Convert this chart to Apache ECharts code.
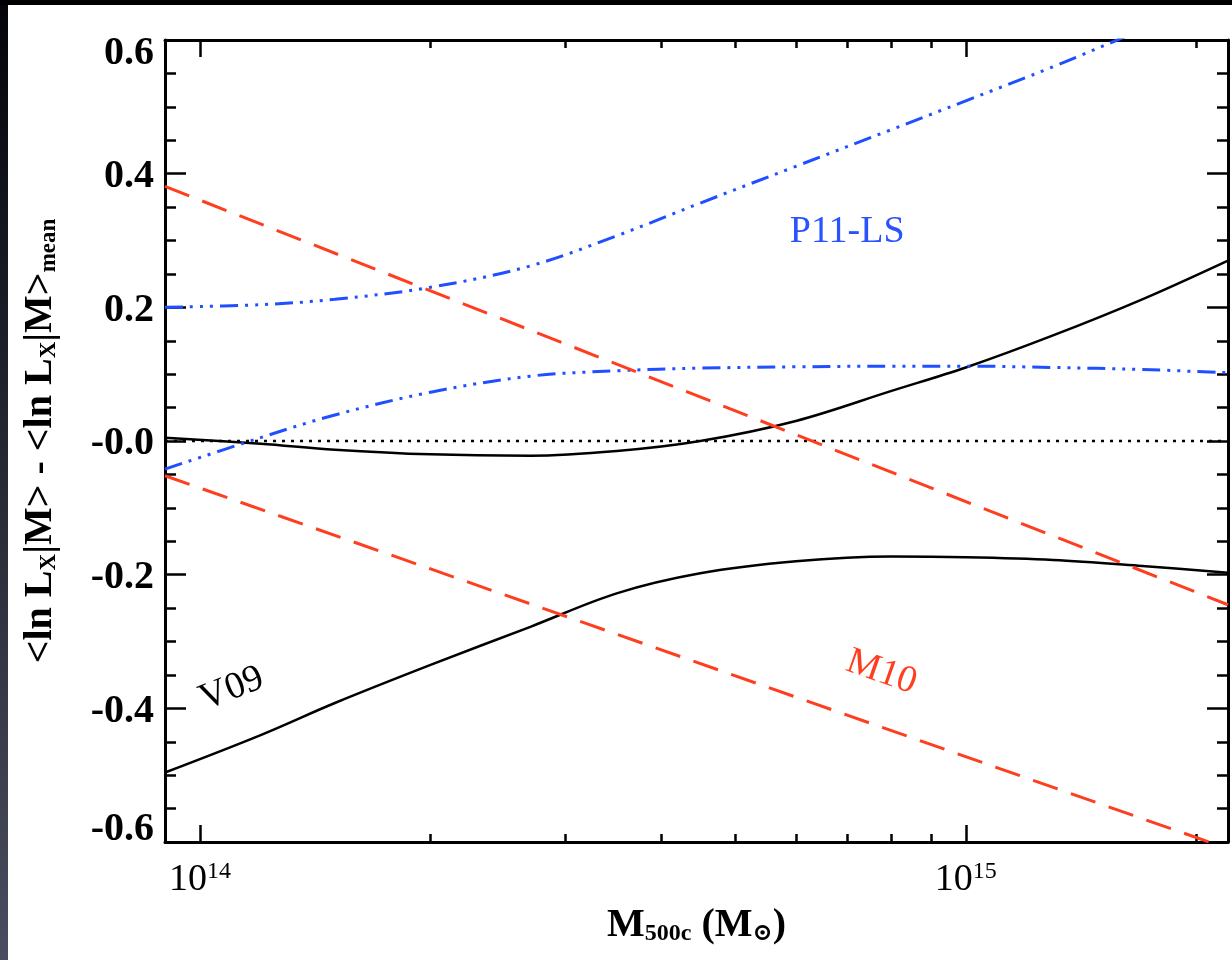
<!DOCTYPE html>
<html>
<head>
<meta charset="utf-8">
<script src="https://cdn.jsdelivr.net/npm/echarts@6/dist/echarts.min.js"></script>
<style>
  html, body { margin: 0; padding: 0; background: #fff; }
  #chart { width: 1232px; height: 960px; }
</style>
</head>
<body>
<div id="chart"></div>
<script>
// Mass grid (M500c, solar masses) shared by the curved relations
const mass = [9e13, 1.2e14, 1.5e14, 2e14, 2.7e14, 3.5e14, 4.5e14, 6e14, 8e14, 1e15, 1.3e15, 1.7e15, 2.2e15];

// V09: upper and lower bounds of <ln Lx|M> - <ln Lx|M>_mean
const v09Upper = [0.005, -0.004, -0.013, -0.020, -0.022, -0.015, 0.0, 0.030, 0.075, 0.110, 0.158, 0.212, 0.270];
const v09Lower = [-0.496, -0.440, -0.392, -0.335, -0.278, -0.228, -0.198, -0.180, -0.173, -0.174, -0.178, -0.187, -0.197];

// P11-LS: upper and lower bounds
const p11Upper = [0.200, 0.204, 0.212, 0.230, 0.262, 0.307, 0.356, 0.411, 0.466, 0.509, 0.560, 0.616, 0.672];
const p11Lower = [-0.042, 0.005, 0.039, 0.073, 0.097, 0.105, 0.109, 0.111, 0.112, 0.112, 0.110, 0.107, 0.102];

// M10: straight (power-law) bounds, given at the ends of the mass range
const m10Mass = [9e13, 2.2e15];
const m10Upper = [0.381, -0.245];
const m10Lower = [-0.052, -0.610];

// Reference line at zero
const zeroMass = [9e13, 2.2e15];
const zeroLine = [0, 0];

// Tick positions and labels
const xMajorTicks = [1e14, 1e15];
const xMinorTicks = [2e14, 3e14, 4e14, 5e14, 6e14, 7e14, 8e14, 9e14, 2e15];
const yTickValues = [-0.6, -0.4, -0.2, 0.0, 0.2, 0.4, 0.6];
const yTickLabels = ['-0.6', '-0.4', '-0.2', '-0.0', '0.2', '0.4', '0.6'];

// Curve annotations
const notes = [
  { m: 7.0e14, v: 0.313, text: 'P11-LS', color: '#2a52ff', rot: 0 },
  { m: 1.10e14, v: -0.371, text: 'V09', color: '#000000', rot: 0.38 },
  { m: 7.76e14, v: -0.346, text: 'M10', color: '#ff3d1f', rot: -0.34 }
];

const SERIF = "'Liberation Serif', 'DejaVu Serif', serif";
const RED = '#ff3d1f';
const BLUE = '#1f4fff';
const X_MIN = 9e13, X_MAX = 2.2e15;

const pairs = (xs, ys) => xs.map((x, i) => [x, ys[i]]);

function xAxisDef(position, ticks, len, withLine, withLabels) {
  return {
    type: 'log', logBase: 10, position: position,
    min: X_MIN, max: X_MAX,
    axisLine: { show: withLine, onZero: false, lineStyle: { color: '#000', width: 3 } },
    axisTick: { show: true, inside: true, length: len, customValues: ticks,
                lineStyle: { color: '#000', width: 2.5 } },
    axisLabel: withLabels ? {
      show: true, customValues: ticks, margin: 18,
      formatter: v => '{b|10}{s|' + Math.round(Math.log10(v)) + '}',
      rich: {
        b: { fontFamily: SERIF, fontSize: 38, color: '#000', lineHeight: 40 },
        s: { fontFamily: SERIF, fontSize: 24, color: '#000', lineHeight: 12, verticalAlign: 'top' }
      }
    } : { show: false },
    splitLine: { show: false },
    minorTick: { show: false }
  };
}

function yAxisDef(position, interval, len, withLine, withLabels) {
  return {
    type: 'value', position: position,
    min: -0.6, max: 0.6, interval: interval,
    axisLine: { show: withLine, onZero: false, lineStyle: { color: '#000', width: 3 } },
    axisTick: { show: true, inside: true, length: len, lineStyle: { color: '#000', width: 2.5 } },
    axisLabel: withLabels ? {
      show: true, margin: 11, showMinLabel: true, showMaxLabel: true,
      formatter: v => {
        let k = 0;
        for (let i = 0; i < yTickValues.length; i++) {
          if (Math.abs(yTickValues[i] - v) < 1e-6) k = i;
        }
        const s = yTickLabels[k];
        if (k === yTickValues.length - 1) return '{top|' + s + '}';
        if (k === 0) return '{bot|' + s + '}';
        return '{mid|' + s + '}';
      },
      rich: {
        mid: { fontFamily: SERIF, fontSize: 40, fontWeight: 'bold', color: '#000', padding: [6, 0, 0, 0] },
        top: { fontFamily: SERIF, fontSize: 40, fontWeight: 'bold', color: '#000', padding: [28, 0, 0, 0] },
        bot: { fontFamily: SERIF, fontSize: 40, fontWeight: 'bold', color: '#000', padding: [0, 0, 24, 0] }
      }
    } : { show: false },
    splitLine: { show: false }
  };
}

const xMain = xAxisDef('bottom', xMajorTicks, 17, true, true);
xMain.name = '{b|M}{s|500c}{b| (M}{s|\u2299}{b|)}';
xMain.nameLocation = 'middle';
xMain.nameGap = 62;
xMain.nameTextStyle = {
  rich: {
    b: { fontFamily: SERIF, fontSize: 40, fontWeight: 'bold', color: '#000', lineHeight: 42, verticalAlign: 'bottom' },
    s: { fontFamily: SERIF, fontSize: 24, fontWeight: 'bold', color: '#000', lineHeight: 10, verticalAlign: 'bottom' }
  }
};

const yMain = yAxisDef('left', 0.2, 21, true, true);
yMain.name = '{b|<ln L}{s|X}{b||M> - <ln L}{s|X}{b||M>}{s|mean}';
yMain.nameLocation = 'middle';
yMain.nameRotate = 90;
yMain.nameGap = 104;
yMain.nameTextStyle = {
  rich: {
    b: { fontFamily: SERIF, fontSize: 40, fontWeight: 'bold', color: '#000', lineHeight: 42, verticalAlign: 'bottom' },
    s: { fontFamily: SERIF, fontSize: 23, fontWeight: 'bold', color: '#000', lineHeight: 10, verticalAlign: 'bottom' }
  }
};

const lineSeries = (name, xs, ys, color, width, type, smooth) => ({
  name: name, type: 'line', xAxisIndex: 0, yAxisIndex: 0,
  data: pairs(xs, ys), showSymbol: false, symbol: 'none',
  smooth: smooth, clip: true,
  lineStyle: { color: color, width: width, type: type, cap: 'butt' },
  emphasis: { disabled: true }
});

const chart = echarts.init(document.getElementById('chart'), null, { renderer: 'canvas' });

chart.setOption({
  animation: false,
  backgroundColor: '#ffffff',
  grid: { left: 165, top: 40, width: 1063, height: 802, containLabel: false },
  xAxis: [
    xMain,
    xAxisDef('bottom', xMinorTicks, 8, false, false),
    xAxisDef('top', xMajorTicks, 17, true, false),
    xAxisDef('top', xMinorTicks, 8, false, false)
  ],
  yAxis: [
    yMain,
    yAxisDef('left', 0.05, 11, false, false),
    yAxisDef('right', 0.2, 21, true, false),
    yAxisDef('right', 0.05, 11, false, false)
  ],
  series: [
    lineSeries('zero', zeroMass, zeroLine, '#000', 2.5, [3, 6], false),
    lineSeries('V09 upper', mass, v09Upper, '#000', 2.5, 'solid', 0.35),
    lineSeries('V09 lower', mass, v09Lower, '#000', 2.5, 'solid', 0.35),
    lineSeries('P11-LS upper', mass, p11Upper, BLUE, 3, [18, 7, 3, 7, 3, 7, 3, 7], 0.35),
    lineSeries('P11-LS lower', mass, p11Lower, BLUE, 3, [18, 7, 3, 7, 3, 7, 3, 7], 0.35),
    lineSeries('M10 upper', m10Mass, m10Upper, RED, 3, [26, 14], false),
    lineSeries('M10 lower', m10Mass, m10Lower, RED, 3, [26, 14], false)
  ]
});

// Curve names placed in data coordinates, plus the dark frame edges
const graphics = notes.map(n => {
  const p = chart.convertToPixel({ xAxisIndex: 0, yAxisIndex: 0 }, [n.m, n.v]);
  return {
    type: 'text', x: p[0], y: p[1], rotation: n.rot, z: 10,
    style: { text: n.text, fill: n.color, font: '38px ' + SERIF, align: 'center', verticalAlign: 'middle' }
  };
});
graphics.push({
  type: 'rect', shape: { x: 0, y: 0, width: 8, height: 960 }, z: 20,
  style: { fill: new echarts.graphic.LinearGradient(0, 0, 0, 1, [
    { offset: 0, color: '#04050a' }, { offset: 1, color: '#4a4d5e' }
  ]) }
});
graphics.push({
  type: 'rect', shape: { x: 0, y: 0, width: 1232, height: 5 }, z: 21,
  style: { fill: '#000' }
});
chart.setOption({ graphic: graphics });
</script>
</body>
</html>
